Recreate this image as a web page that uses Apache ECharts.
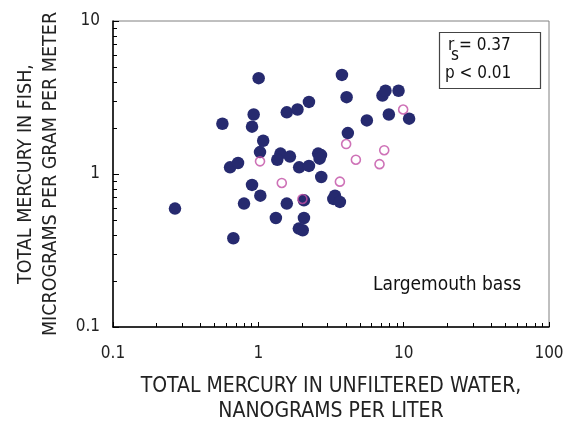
<!DOCTYPE html>
<html><head><meta charset="utf-8">
<script src="https://cdn.jsdelivr.net/npm/echarts@6/dist/echarts.min.js"></script>
<style>html,body{margin:0;padding:0;background:#fff}#c{width:571px;height:428px}</style>
</head><body><div id="c"></div>
<script>
// Largemouth bass: total mercury in unfiltered water (ng/L) vs fish (ug/g per m)
const filledX = [0.267,0.673,0.566,0.639,0.725,0.797,1.005,0.929,0.905,1.08,1.027,0.905,1.032,1.42,1.35,1.65,1.57,1.86,2.23,1.91,2.23,1.57,1.32,2.06,2.06,1.90,2.02,2.58,2.70,2.64,2.71,3.37,3.28,3.64,3.76,4.05,4.13,5.58,7.15,7.50,9.22,7.91,10.9];
const filledY = [0.594,0.380,2.13,1.105,1.18,0.641,4.23,2.45,2.04,1.65,1.39,0.848,0.722,1.36,1.24,1.30,2.53,2.64,2.96,1.105,1.13,0.641,0.516,0.516,0.673,0.440,0.429,1.36,1.33,1.26,0.956,0.722,0.687,0.657,4.44,3.18,1.85,2.24,3.26,3.50,3.50,2.45,2.30];
const openX = [1.027,1.45,2.01,3.64,4.02,4.69,6.82,7.35,9.92];
const openY = [1.21,0.874,0.687,0.891,1.57,1.24,1.16,1.43,2.64];
const xTicks = [0.1,1,10,100];
const yTicks = [0.1,1,10];
const xMinor = [0.2,0.3,0.4,0.5,0.6,0.7,0.8,0.9,2,3,4,5,6,7,8,9,20,30,40,50,60,70,80,90];
const yMinor = [0.2,0.3,0.4,0.5,0.6,0.7,0.8,0.9,2,3,4,5,6,7,8,9];
const xTitle = 'TOTAL MERCURY IN UNFILTERED WATER,\nNANOGRAMS PER LITER';
const yTitle = 'TOTAL MERCURY IN FISH,\nMICROGRAMS PER GRAM PER METER';

const FONT = '"DejaVu Sans Condensed","Liberation Sans Narrow",sans-serif';
const chart = echarts.init(document.getElementById('c'), null, {renderer:'canvas'});
const zip = (a,b)=>a.map((v,i)=>[v,b[i]]);
const lblFmt = v => { const r = +v.toPrecision(3); return String(r); };
chart.setOption({
  animation:false,
  grid:{left:113,right:22,top:21,bottom:101,show:true,borderColor:'#808080',borderWidth:1,containLabel:false,outerBoundsMode:'none'},
  xAxis:[{
    type:'log',logBase:10,min:0.1,max:100,
    name:xTitle,nameLocation:'middle',nameGap:47,
    nameTextStyle:{fontFamily:FONT,fontSize:21,color:'#222',lineHeight:25},
    axisLine:{show:true,onZero:false,lineStyle:{color:'#000',width:1.5}},
    axisTick:{show:true,inside:true,length:5,lineStyle:{color:'#000',width:1}},
    axisLabel:{customValues:xTicks,formatter:lblFmt,fontFamily:FONT,fontSize:17,color:'#222',margin:18},
    splitLine:{show:false},minorTick:{show:false}
  },{
    type:'log',logBase:10,min:0.1,max:100,position:'bottom',
    axisLine:{show:false},
    axisTick:{show:true,inside:true,length:4,customValues:xMinor,lineStyle:{color:'#000',width:1}},
    axisLabel:{show:false},splitLine:{show:false}
  }],
  yAxis:[{
    type:'log',logBase:10,min:0.1,max:10,
    name:yTitle,nameLocation:'middle',nameGap:50,
    nameTextStyle:{fontFamily:FONT,fontSize:19.5,color:'#222',lineHeight:25},
    axisLine:{show:true,onZero:false,lineStyle:{color:'#000',width:1.5}},
    axisTick:{show:true,inside:true,length:6,lineStyle:{color:'#000',width:1}},
    axisLabel:{customValues:yTicks,formatter:lblFmt,fontFamily:FONT,fontSize:17,color:'#222',margin:13},
    splitLine:{show:false}
  },{
    type:'log',logBase:10,min:0.1,max:10,position:'left',
    axisLine:{show:false},
    axisTick:{show:true,inside:true,length:4,customValues:yMinor,lineStyle:{color:'#000',width:1}},
    axisLabel:{show:false},splitLine:{show:false}
  }],
  graphic:[
    {type:'rect',shape:{x:439.5,y:32.5,width:101,height:56},style:{fill:'#fff',stroke:'#444',lineWidth:1.2},z:10},
    {type:'text',x:448,y:37,style:{text:'r',font:'17px '+FONT,fill:'#111'},z:11},
    {type:'text',x:451,y:47,style:{text:'s',font:'17px '+FONT,fill:'#111'},z:11},
    {type:'text',x:459,y:37,style:{text:'= 0.37',font:'17px '+FONT,fill:'#111'},z:11},
    {type:'text',x:445,y:65,style:{text:'p < 0.01',font:'17px '+FONT,fill:'#111'},z:11},
    {type:'text',x:373,y:276,style:{text:'Largemouth bass',font:'19px '+FONT,fill:'#111'},z:11}
  ],
  series:[{
    type:'scatter',xAxisIndex:0,yAxisIndex:0,data:zip(filledX,filledY),
    symbol:'circle',symbolSize:12.5,itemStyle:{color:'#262a6f',opacity:1},z:3
  },{
    type:'scatter',xAxisIndex:0,yAxisIndex:0,data:zip(openX,openY),
    symbol:'circle',symbolSize:9,itemStyle:{color:'rgba(255,255,255,0)',borderColor:'#c24fa5',borderWidth:1.6},z:4
  }]
});
</script></body></html>
